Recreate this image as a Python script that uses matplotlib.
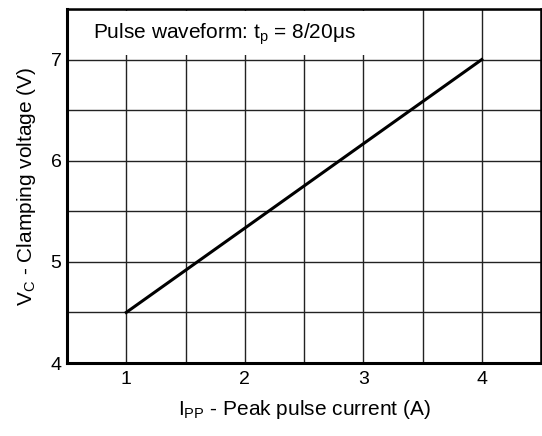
import matplotlib
matplotlib.use("Agg")
import matplotlib.pyplot as plt
from matplotlib.patches import Rectangle

plt.rcParams['font.family'] = ['Liberation Sans', 'DejaVu Sans']
plt.rcParams['mathtext.fontset'] = 'custom'
plt.rcParams['mathtext.rm'] = 'Liberation Sans'
plt.rcParams['mathtext.it'] = 'Liberation Sans'

current = [1, 2, 3, 4]
voltage = [4.5, 5.333, 6.167, 7.0]
xticks = [1, 2, 3, 4]
yticks = [4, 5, 6, 7]

fig = plt.figure(figsize=(5.42, 4.36), dpi=100)
ax = fig.add_axes([67/542, 1 - 363/436, (541 - 67)/542, (363 - 9)/436])

ax.set_xlim(0.5, 4.5)
ax.set_ylim(4, 7.5)
ax.set_xticks(xticks)
ax.set_xticks([0.5 + 0.5*i for i in range(9)], minor=True)
ax.set_yticks(yticks)
ax.set_yticks([4 + 0.5*i for i in range(8)], minor=True)
ax.grid(True, which='both', color='#222222', linewidth=1.0)
ax.set_axisbelow(True)
ax.tick_params(which='both', length=0)
ax.tick_params(axis='x', pad=6, labelsize=14)
ax.tick_params(axis='y', pad=4, labelsize=14)

ax.plot(current, voltage, color='black', linewidth=2.2, zorder=3)

ax.add_patch(Rectangle((0.003, 0.87), 0.735, 0.125, transform=ax.transAxes,
                       facecolor='white', edgecolor='none', zorder=2.5))
ax.text(0.055, 0.93, r'Pulse waveform: $\mathregular{t_p}$ = 8/20μs',
        transform=ax.transAxes, fontsize=15, va='center', ha='left', zorder=4)

for s in ['left', 'bottom']:
    ax.spines[s].set_linewidth(2.2)
ax.spines['top'].set_linewidth(1.8)
ax.spines['right'].set_linewidth(1.8)

ax.set_xlabel(r'$\mathregular{I_{PP}}$ - Peak pulse current (A)', fontsize=15, labelpad=7)
ax.set_ylabel(r'$\mathregular{V_C}$ - Clamping voltage (V)', fontsize=15, labelpad=9)

fig.savefig('out.png', dpi=100)
